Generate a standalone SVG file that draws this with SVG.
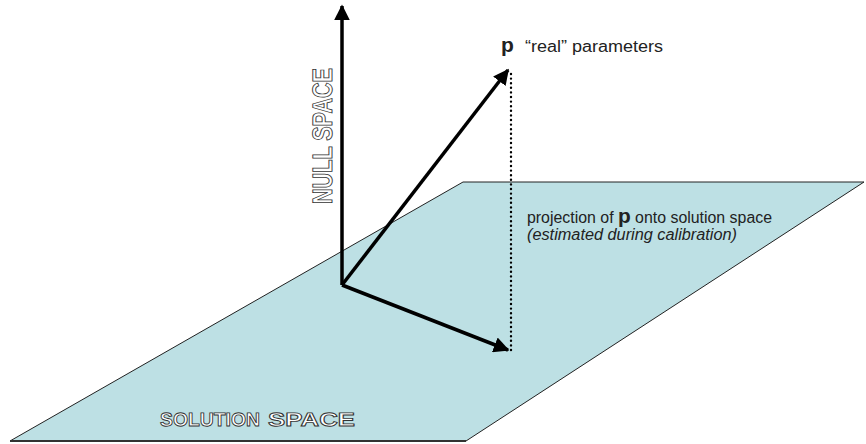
<svg xmlns="http://www.w3.org/2000/svg" width="866" height="444" viewBox="0 0 866 444">
<style>
.lbl{font-family:"Liberation Sans","DejaVu Sans",sans-serif;fill:#222;font-size:16px}
.out{font-family:"Liberation Sans","DejaVu Sans",sans-serif;fill:#fff;stroke:#333;stroke-width:0.9;font-weight:bold;text-rendering:geometricPrecision}
.vec{stroke:#000;stroke-width:3.5;fill:none}
</style>
<defs>
<marker id="ah" viewBox="0 0 10 10" refX="9" refY="5" markerWidth="4.5" markerHeight="4.5" orient="auto" markerUnits="strokeWidth">
<path d="M0,0 L10,5 L0,10 z" fill="#000"/>
</marker>
</defs>
<g id="plane">
<polygon points="463,182 864,182 466,441 10,441" fill="#bde0e4" stroke="#222" stroke-width="1"/>
<line x1="10" y1="441" x2="466" y2="441" stroke="#333" stroke-width="2"/>
<text class="out" x="160" y="426" font-size="19" textLength="100" lengthAdjust="spacingAndGlyphs">SOLUTION</text>
<text class="out" x="268" y="426" font-size="19" textLength="87" lengthAdjust="spacingAndGlyphs">SPACE</text>
</g>
<g id="connectors">
<line class="vec" x1="342" y1="285" x2="342" y2="6" marker-end="url(#ah)"/>
<line class="vec" x1="342" y1="285" x2="508" y2="70" marker-end="url(#ah)"/>
<line class="vec" x1="342" y1="285" x2="508" y2="350" marker-end="url(#ah)"/>
<line x1="511" y1="74" x2="511" y2="352" stroke="#000" stroke-width="2.4" stroke-linecap="round" stroke-dasharray="0 4.6"/>
</g>
<g id="null-space">
<text class="out" transform="translate(332,204) rotate(-90)" font-size="28" textLength="136" lengthAdjust="spacingAndGlyphs">NULL SPACE</text>
</g>
<g id="p-label">
<text class="lbl" x="501" y="52"><tspan font-weight="bold" font-size="21">p</tspan></text>
<text class="lbl" x="525" y="52" textLength="138" lengthAdjust="spacingAndGlyphs">“real” parameters</text>
</g>
<g id="projection-label">
<text class="lbl" x="527" y="223" textLength="245" lengthAdjust="spacingAndGlyphs">projection of <tspan font-weight="bold" font-size="21">p</tspan> onto solution space</text>
<text class="lbl" x="527" y="240" font-style="italic" textLength="210" lengthAdjust="spacingAndGlyphs">(estimated during calibration)</text>
</g>
</svg>
